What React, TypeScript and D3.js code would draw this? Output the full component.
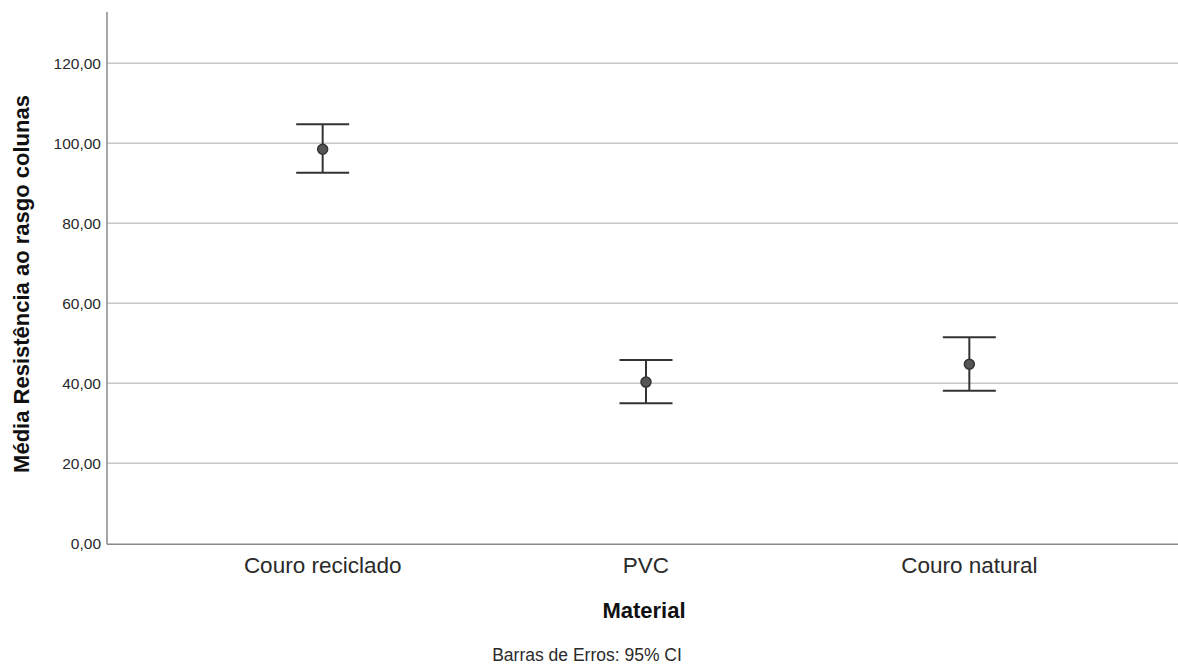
import * as d3 from 'd3';
import React, { useRef, useEffect } from 'react';

// values
const materials = ['Couro reciclado', 'PVC', 'Couro natural'];
const means = [98.5, 40.3, 44.75];
const lowerCI = [92.65, 35.0, 38.1];
const upperCI = [104.75, 45.8, 51.5];
const yTicks = [0, 20, 40, 60, 80, 100, 120];

const width = 1178,
  height = 664;

export default function App() {
  const ref = useRef<SVGSVGElement>(null);

  useEffect(() => {
    const svg = d3.select(ref.current);
    svg.selectAll('*').remove();

    const left = 107,
      right = 1178,
      top = 12,
      bottom = 543.3;

    const y = d3.scaleLinear().domain([0, 132.8]).range([bottom, top]);
    // plot runs a bit past the right edge of the picture
    const x = d3.scalePoint<string>().domain(materials).range([left, 1185]).padding(0.667);

    const font = 'Arial, "Liberation Sans", sans-serif';

    // grid lines
    svg.append('g')
      .selectAll('line')
      .data(yTicks.filter(d => d > 0))
      .enter()
      .append('line')
      .attr('x1', left)
      .attr('x2', right)
      .attr('y1', d => y(d))
      .attr('y2', d => y(d))
      .attr('stroke', '#c8c8c8')
      .attr('stroke-width', 1.5);

    // axes lines
    svg.append('line')
      .attr('x1', left).attr('x2', left)
      .attr('y1', top).attr('y2', bottom + 1)
      .attr('stroke', '#8a8a8a').attr('stroke-width', 1.5);
    svg.append('line')
      .attr('x1', left).attr('x2', right)
      .attr('y1', bottom + 1).attr('y2', bottom + 1)
      .attr('stroke', '#8a8a8a').attr('stroke-width', 1.5);

    // y tick labels
    svg.append('g')
      .selectAll('text')
      .data(yTicks)
      .enter()
      .append('text')
      .attr('x', left - 6)
      .attr('y', d => y(d))
      .attr('dy', '0.35em')
      .attr('text-anchor', 'end')
      .attr('font-family', font)
      .attr('font-size', 15.5)
      .attr('fill', '#2a2a2a')
      .text(d => d3.format('.2f')(d).replace('.', ','));

    // x category labels
    svg.append('g')
      .selectAll('text')
      .data(materials)
      .enter()
      .append('text')
      .attr('x', d => x(d)!)
      .attr('y', 573)
      .attr('text-anchor', 'middle')
      .attr('font-family', font)
      .attr('font-size', 22.5)
      .attr('fill', '#2a2a2a')
      .text(d => d);

    // error bars
    const capW = 26.5;
    const bars = svg.append('g')
      .selectAll('g')
      .data(materials)
      .enter()
      .append('g');

    bars.append('line')
      .attr('x1', d => x(d)!).attr('x2', d => x(d)!)
      .attr('y1', (d, i) => y(upperCI[i])).attr('y2', (d, i) => y(lowerCI[i]))
      .attr('stroke', '#333').attr('stroke-width', 2);
    bars.append('line')
      .attr('x1', d => x(d)! - capW).attr('x2', d => x(d)! + capW)
      .attr('y1', (d, i) => y(upperCI[i])).attr('y2', (d, i) => y(upperCI[i]))
      .attr('stroke', '#333').attr('stroke-width', 2);
    bars.append('line')
      .attr('x1', d => x(d)! - capW).attr('x2', d => x(d)! + capW)
      .attr('y1', (d, i) => y(lowerCI[i])).attr('y2', (d, i) => y(lowerCI[i]))
      .attr('stroke', '#333').attr('stroke-width', 2);
    bars.append('circle')
      .attr('cx', d => x(d)!)
      .attr('cy', (d, i) => y(means[i]))
      .attr('r', 5)
      .attr('fill', '#555')
      .attr('stroke', '#333')
      .attr('stroke-width', 1.5);

    // axis titles
    svg.append('text')
      .attr('transform', 'translate(29,' + 284 + ') rotate(-90)')
      .attr('text-anchor', 'middle')
      .attr('font-family', font)
      .attr('font-size', 22)
      .attr('font-weight', 'bold')
      .attr('fill', '#111')
      .text('Média Resistência ao rasgo colunas');

    svg.append('text')
      .attr('x', 644)
      .attr('y', 617.5)
      .attr('text-anchor', 'middle')
      .attr('font-family', font)
      .attr('font-size', 22)
      .attr('font-weight', 'bold')
      .attr('fill', '#111')
      .text('Material');

    svg.append('text')
      .attr('x', 587)
      .attr('y', 660.5)
      .attr('text-anchor', 'middle')
      .attr('font-family', font)
      .attr('font-size', 17.5)
      .attr('fill', '#2a2a2a')
      .text('Barras de Erros: 95% CI');
  }, []);

  return (
    <svg
      ref={ref}
      width={width}
      height={height}
      style={{ position: 'absolute', left: 0, top: 0, background: '#fff' }}
    />
  );
}
